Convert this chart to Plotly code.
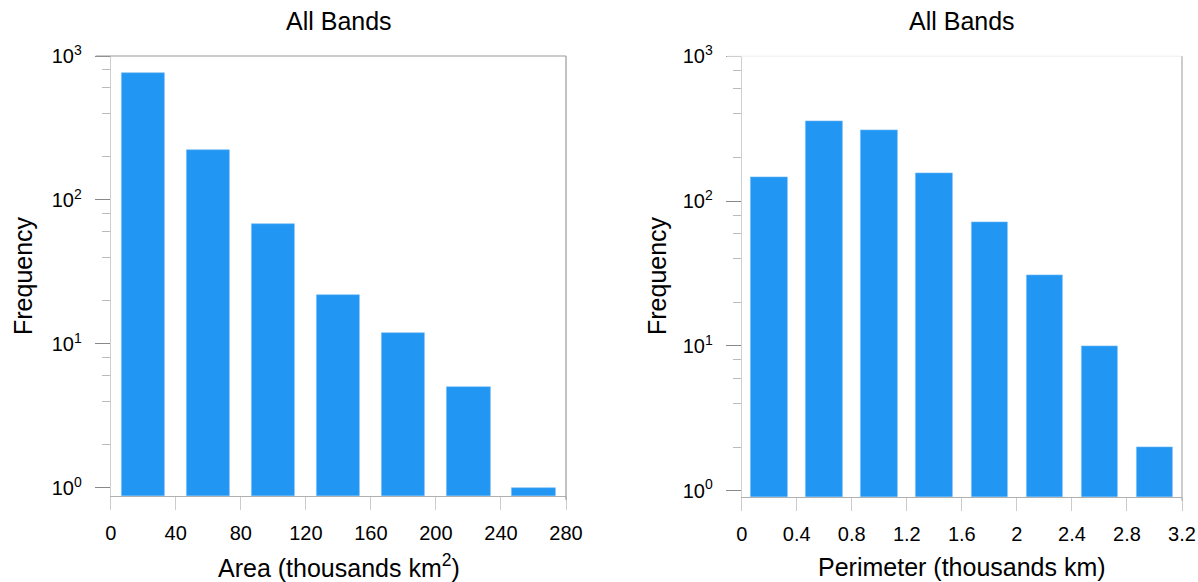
import plotly.graph_objects as go

# ---- data ----
area_centers = [20, 60, 100, 140, 180, 220, 260]          # thousands km^2 (bin centres)
area_freq = [762, 222, 68, 22, 12, 5, 1]
perim_centers = [0.2, 0.6, 1.0, 1.4, 1.8, 2.2, 2.6, 3.0]  # thousands km (bin centres)
perim_freq = [147, 357, 310, 156, 72, 31, 10, 2]

area_ticks = [0, 40, 80, 120, 160, 200, 240, 280]
perim_ticks = [0, 0.4, 0.8, 1.2, 1.6, 2, 2.4, 2.8, 3.2]
perim_ticktext = ["0", "0.4", "0.8", "1.2", "1.6", "2", "2.4", "2.8", "3.2"]
y_ticks = [1, 10, 100, 1000]
y_ticktext = ["10<sup>0</sup>", "10<sup>1</sup>", "10<sup>2</sup>", "10<sup>3</sup>"]
y_minor = [m * 10 ** e for e in range(0, 3) for m in (2, 4, 6, 8)]

W, H = 1198, 582
FONT = "Liberation Sans, Arial, Helvetica, sans-serif"
BAR = "#2196F3"


def px(x):
    return x / W


def py(y):
    return 1 - y / H


fig = go.Figure()
fig.add_trace(go.Bar(x=area_centers, y=area_freq, width=26.8, xaxis="x", yaxis="y",
                     marker=dict(color=BAR, line=dict(color="#7cc0f7", width=0.6)),
                     showlegend=False))
fig.add_trace(go.Bar(x=perim_centers, y=perim_freq, width=0.264, xaxis="x2", yaxis="y2",
                     marker=dict(color=BAR, line=dict(color="#7cc0f7", width=0.6)),
                     showlegend=False))

L = (110.7, 566.0, 56.0, 495.7)   # left, right, top, bottom (px)
R = (741.7, 1182.0, 56.2, 496.7)

yaxis_common = dict(
    type="log", tickmode="array", tickvals=y_ticks, ticktext=y_ticktext,
    ticks="outside", ticklen=15, tickcolor="#888", tickwidth=1,
    showgrid=False, zeroline=False, showline=True, linecolor="#cfcfcf", linewidth=1,
    tickfont=dict(family=FONT, size=20, color="black"), ticklabelstandoff=9,
    minor=dict(tickmode="array", tickvals=y_minor, ticks="outside", ticklen=8,
               tickcolor="#bbb", showgrid=False),
    automargin=False, fixedrange=True,
)
xaxis_common = dict(
    tickmode="array", ticks="outside", ticklen=13, tickcolor="#ccc", tickwidth=1,
    showgrid=False, zeroline=False, showline=True, linecolor="#b0b0b0", linewidth=1,
    tickfont=dict(family=FONT, size=20, color="black"), ticklabelstandoff=6,
    automargin=False, fixedrange=True,
)

fig.update_layout(
    width=W, height=H, margin=dict(l=0, r=0, t=0, b=0),
    paper_bgcolor="white", plot_bgcolor="white",
    font=dict(family=FONT, color="black"),
    bargap=0,
    xaxis=dict(xaxis_common, domain=[px(L[0]), px(L[1])], range=[0, 280],
               tickvals=area_ticks, anchor="y"),
    yaxis=dict(yaxis_common, domain=[py(L[3]), py(L[2])], range=[-0.054, 3], anchor="x"),
    xaxis2=dict(xaxis_common, domain=[px(R[0]), px(R[1])], range=[0, 3.2],
                tickvals=perim_ticks, ticktext=perim_ticktext, anchor="y2"),
    yaxis2=dict(yaxis_common, domain=[py(R[3]), py(R[2])], range=[-0.041, 3], anchor="x2"),
)

# frame lines (top and right)
for (l, r, t, b), topc, rightc in [(L, "#999", "#999"), (R, "#eeeeee", "#aaa")]:
    fig.add_shape(type="line", xref="paper", yref="paper", x0=px(l - 15), x1=px(r),
                  y0=py(t), y1=py(t), line=dict(color=topc, width=1))
    fig.add_shape(type="line", xref="paper", yref="paper", x0=px(r), x1=px(r),
                  y0=py(t), y1=py(b + 4), line=dict(color=rightc, width=1.2))

ann = []
for x, text in [(339, "All Bands"), (962, "All Bands")]:
    ann.append(dict(x=px(x), y=py(21), xref="paper", yref="paper", text=text,
                    showarrow=False, font=dict(family=FONT, size=25, color="black"),
                    xanchor="center", yanchor="middle"))
for x, text in [(23, "Frequency"), (657, "Frequency")]:
    ann.append(dict(x=px(x), y=py(276), xref="paper", yref="paper", text=text,
                    showarrow=False, textangle=-90,
                    font=dict(family=FONT, size=25, color="black"),
                    xanchor="center", yanchor="middle"))
ann.append(dict(x=px(339), y=py(566), xref="paper", yref="paper",
                text="Area (thousands km<sup>2</sup>)", showarrow=False,
                font=dict(family=FONT, size=25, color="black"),
                xanchor="center", yanchor="middle"))
ann.append(dict(x=px(962), y=py(567), xref="paper", yref="paper",
                text="Perimeter (thousands km)", showarrow=False,
                font=dict(family=FONT, size=25, color="black"),
                xanchor="center", yanchor="middle"))
fig.update_layout(annotations=ann)

fig.write_html("out.html", config={"displayModeBar": False},
               post_script="document.body.style.margin='0';document.body.style.overflow='hidden';")
